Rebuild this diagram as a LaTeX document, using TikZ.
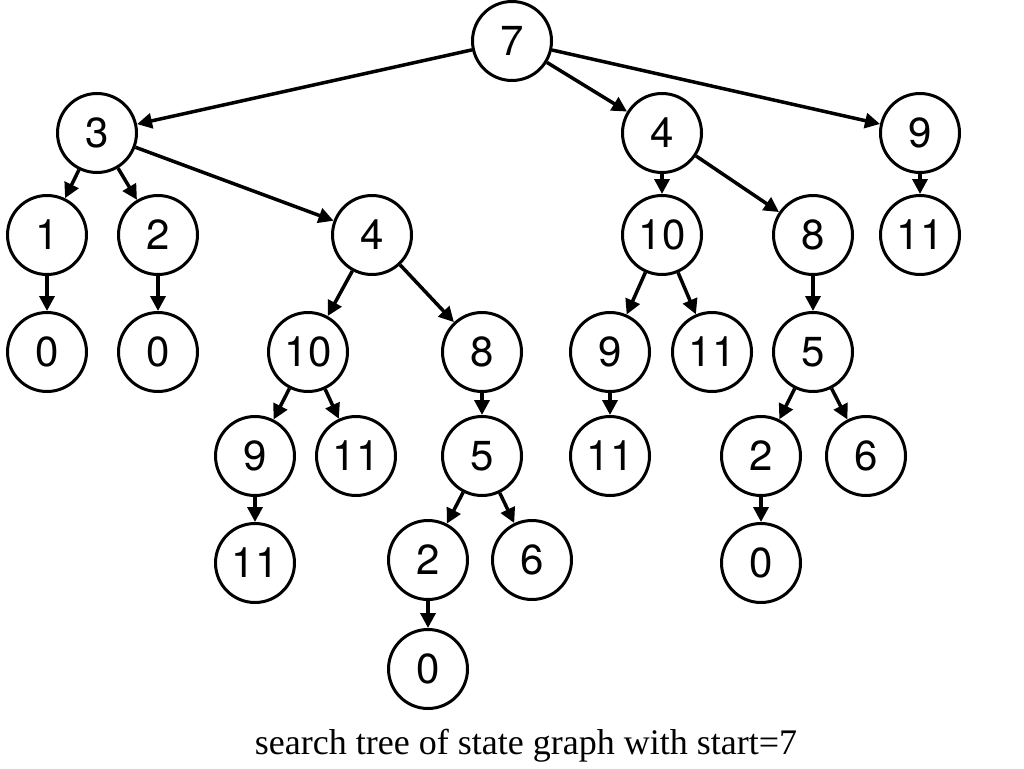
\documentclass[tikz,border=0pt]{standalone}
\usepackage{fontspec}
\setmainfont{Liberation Serif}
\newfontfamily\statefont{TeX Gyre Heros}
\usepackage{tikz}
\usetikzlibrary{arrows.meta}

\begin{document}
\begin{tikzpicture}
[every node/.style={inner sep=0pt},
 state/.style={circle, minimum size=79pt, draw=black, line width=3pt, fill=white, font=\statefont\fontsize{42}{44}\selectfont},
 edge/.style={line width=3.5pt, ->, >={Triangle[length=15pt,width=15pt]}, color=black}]
\useasboundingbox (0pt, 0pt) rectangle (1024pt, -768pt);
% level 0
\node (n7) [state] at (512pt, -41pt) {7};
% level 1
\node (n3) [state] at (97pt, -133pt) {3};
\node (n4) [state] at (662pt, -133pt) {4};
\node (n9) [state] at (920pt, -133pt) {9};
% level 2
\node (n1) [state] at (47pt, -235pt) {1};
\node (n2) [state] at (158pt, -235pt) {2};
\node (n4b) [state] at (372pt, -235pt) {4};
\node (n10) [state] at (662pt, -235pt) {10};
\node (n8) [state] at (813pt, -235pt) {8};
\node (n11) [state] at (920pt, -235pt) {11};
% level 3
\node (n0a) [state] at (47pt, -352pt) {0};
\node (n0b) [state] at (158pt, -352pt) {0};
\node (n10b) [state] at (308pt, -352pt) {10};
\node (n8b) [state] at (482pt, -352pt) {8};
\node (n9b) [state] at (610pt, -352pt) {9};
\node (n11b) [state] at (712pt, -352pt) {11};
\node (n5) [state] at (813pt, -352pt) {5};
% level 4
\node (n9c) [state] at (255pt, -456pt) {9};
\node (n11c) [state] at (356pt, -456pt) {11};
\node (n5b) [state] at (482pt, -456pt) {5};
\node (n11d) [state] at (610pt, -456pt) {11};
\node (n2b) [state] at (761pt, -456pt) {2};
\node (n6) [state] at (866pt, -456pt) {6};
% level 5
\node (n11e) [state] at (255pt, -563pt) {11};
\node (n2c) [state] at (428pt, -560pt) {2};
\node (n6b) [state] at (532pt, -560pt) {6};
\node (n0c) [state] at (761pt, -563pt) {0};
% level 6
\node (n0d) [state] at (428pt, -669pt) {0};
% caption
\node (caption) at (526pt, -746pt) {\fontsize{36}{39}\selectfont search tree of state graph with start=7};
% edges
\draw [edge] (n7) to (n3);
\draw [edge] (n7) to (n4);
\draw [edge] (n7) to (n9);
\draw [edge] (n3) to (n1);
\draw [edge] (n3) to (n2);
\draw [edge] (n3) to (n4b);
\draw [edge] (n1) to (n0a);
\draw [edge] (n2) to (n0b);
\draw [edge] (n4b) to (n10b);
\draw [edge] (n4b) to (n8b);
\draw [edge] (n10b) to (n9c);
\draw [edge] (n10b) to (n11c);
\draw [edge] (n9c) to (n11e);
\draw [edge] (n8b) to (n5b);
\draw [edge] (n5b) to (n2c);
\draw [edge] (n5b) to (n6b);
\draw [edge] (n2c) to (n0d);
\draw [edge] (n4) to (n10);
\draw [edge] (n4) to (n8);
\draw [edge] (n10) to (n9b);
\draw [edge] (n10) to (n11b);
\draw [edge] (n9b) to (n11d);
\draw [edge] (n8) to (n5);
\draw [edge] (n5) to (n2b);
\draw [edge] (n5) to (n6);
\draw [edge] (n2b) to (n0c);
\draw [edge] (n9) to (n11);
\end{tikzpicture}
\end{document}
